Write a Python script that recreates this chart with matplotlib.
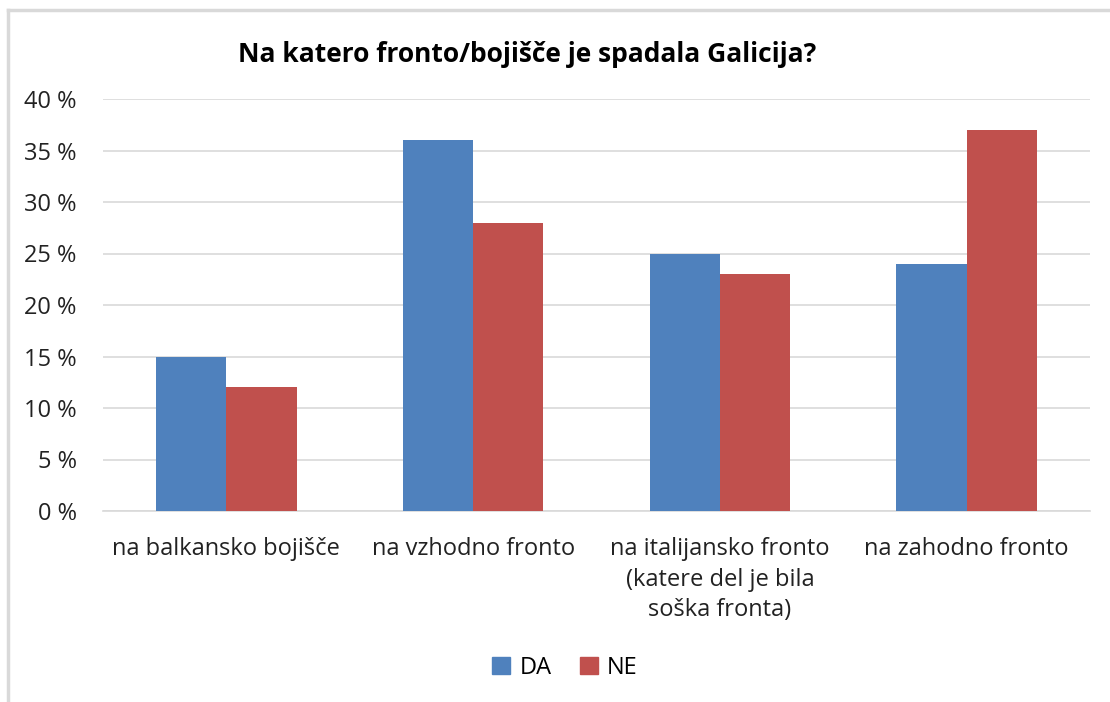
import matplotlib
matplotlib.use('Agg')
import matplotlib.pyplot as plt
from matplotlib.lines import Line2D
from matplotlib.patches import Patch
import numpy as np

categories = ['na balkansko bojišče', 'na vzhodno fronto',
              'na italijansko fronto\n(katere del je bila\nsoška fronta)', 'na zahodno fronto']
da = [15, 36, 25, 24]
ne = [12, 28, 23, 37]
yticks = [0, 5, 10, 15, 20, 25, 30, 35, 40]

plt.rcParams['font.family'] = ['Open Sans', 'DejaVu Sans']

fig = plt.figure(figsize=(11.1, 7.02), dpi=100)
ax = fig.add_axes([103 / 1110, 1 - 511 / 702, 987 / 1110, 412 / 702])

x = np.arange(len(categories))
w = 0.285
ax.bar(x - w / 2, da, w, color='#4f81bd', label='DA', zorder=3)
ax.bar(x + w / 2, ne, w, color='#c0504d', label='NE', zorder=3)

ax.set_xlim(-0.5, len(categories) - 0.5)
ax.set_ylim(0, 40)
ax.set_yticks(yticks)
ax.set_yticklabels([f'{t} %' for t in yticks], fontsize=17, color='#222222')
ax.set_xticks(x)
ax.set_xticklabels(categories, fontsize=17, color='#222222', linespacing=1.35, va='top')
ax.tick_params(axis='both', length=0)
ax.tick_params(axis='y', pad=19)
ax.tick_params(axis='x', pad=19)
ax.grid(axis='y', color='#d9d9d9', linewidth=1.2, zorder=0)
for s in ['top', 'right', 'left']:
    ax.spines[s].set_visible(False)
ax.spines['bottom'].set_color('#d9d9d9')
ax.spines['bottom'].set_linewidth(1.2)

fig.text(527 / 1110, 1 - 55 / 702, 'Na katero fronto/bojišče je spadala Galicija?',
         ha='center', va='center', fontsize=19, fontweight='bold')

handles = [Patch(color='#4f81bd', label='DA'), Patch(color='#c0504d', label='NE')]
fig.legend(handles=handles, loc='center', bbox_to_anchor=(565 / 1110, 1 - 668 / 702),
           ncol=2, frameon=False, fontsize=17, handlelength=0.75, handleheight=0.75,
           handletextpad=0.4, columnspacing=1.2)

# chart frame (top and left edges visible)
fig.add_artist(Line2D([8 / 1110, 8 / 1110], [0, 1 - 10 / 702], color='#d9d9d9', linewidth=2.5,
                      transform=fig.transFigure))
fig.add_artist(Line2D([8 / 1110, 1], [1 - 10 / 702, 1 - 10 / 702], color='#d9d9d9', linewidth=2.5,
                      transform=fig.transFigure))

fig.savefig('out.png', dpi=100)
